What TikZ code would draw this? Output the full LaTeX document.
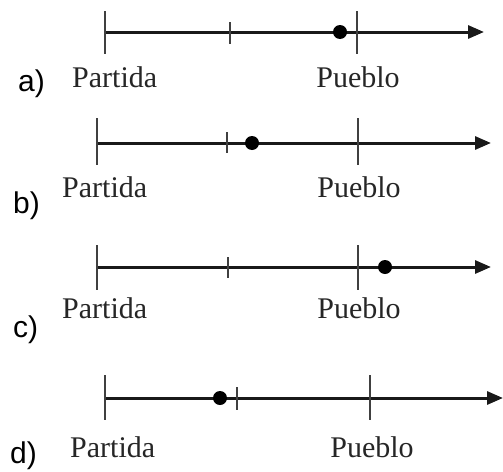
\documentclass[tikz,border=0pt]{standalone}
\usepackage{fontspec}
\setmainfont{Liberation Serif}
\newfontfamily\labelfont{Liberation Sans}
\usetikzlibrary{arrows.meta}
\begin{document}
\begin{tikzpicture}[x=1pt,y=-1pt,
  axisline/.style={line width=3pt,black!90,-{Triangle[length=16pt,width=13pt]}},
  bigtick/.style={line width=1.4pt,black!75},
  smalltick/.style={line width=1.4pt,black!75},
  marker/.style={circle,fill=black,inner sep=0pt,minimum size=14pt},
  place/.style={inner sep=0pt,text=black!85,font=\fontsize{30}{30}\selectfont},
  item/.style={inner sep=0pt,anchor=base west,font=\labelfont\fontsize{30}{30}\selectfont}]
\useasboundingbox (0,0) rectangle (503,471);

% a)
\coordinate (a0) at (105,32);
\coordinate (a1) at (484,32);
\draw[axisline] (a0) -- (a1);
\draw[bigtick] (105,11) -- (105,54);
\draw[smalltick] (230,22) -- (230,44);
\draw[bigtick] (357,11) -- (357,54);
\node[marker] (adot) at (340,32) {};
\node[place,anchor=base west] (apart) at (72,87) {Partida};
\node[place,anchor=base] (apueb) at (358,87) {Pueblo};
\node[item] (alab) at (18,91) {a)};

% b)
\coordinate (b0) at (97,143);
\coordinate (b1) at (491,143);
\draw[axisline] (b0) -- (b1);
\draw[bigtick] (97,118) -- (97,165);
\draw[smalltick] (227,132) -- (227,153);
\draw[bigtick] (358,118) -- (358,165);
\node[marker] (bdot) at (252,143) {};
\node[place,anchor=base west] (bpart) at (62,197) {Partida};
\node[place,anchor=base] (bpueb) at (359,197) {Pueblo};
\node[item] (blab) at (13,213) {b)};

% c)
\coordinate (c0) at (97,267);
\coordinate (c1) at (491,267);
\draw[axisline] (c0) -- (c1);
\draw[bigtick] (97,245) -- (97,290);
\draw[smalltick] (228,257) -- (228,278);
\draw[bigtick] (358,245) -- (358,290);
\node[marker] (cdot) at (385,267) {};
\node[place,anchor=base west] (cpart) at (62,318) {Partida};
\node[place,anchor=base] (cpueb) at (359,318) {Pueblo};
\node[item] (clab) at (13,337) {c)};

% d)
\coordinate (d0) at (105,398);
\coordinate (d1) at (503,398);
\draw[axisline] (d0) -- (d1);
\draw[bigtick] (105,375) -- (105,420);
\draw[smalltick] (237,387) -- (237,410);
\draw[bigtick] (370,375) -- (370,420);
\node[marker] (ddot) at (220,398) {};
\node[place,anchor=base west] (dpart) at (70,457) {Partida};
\node[place,anchor=base] (dpueb) at (372,457) {Pueblo};
\node[item] (dlab) at (10,463) {d)};
\end{tikzpicture}
\end{document}
